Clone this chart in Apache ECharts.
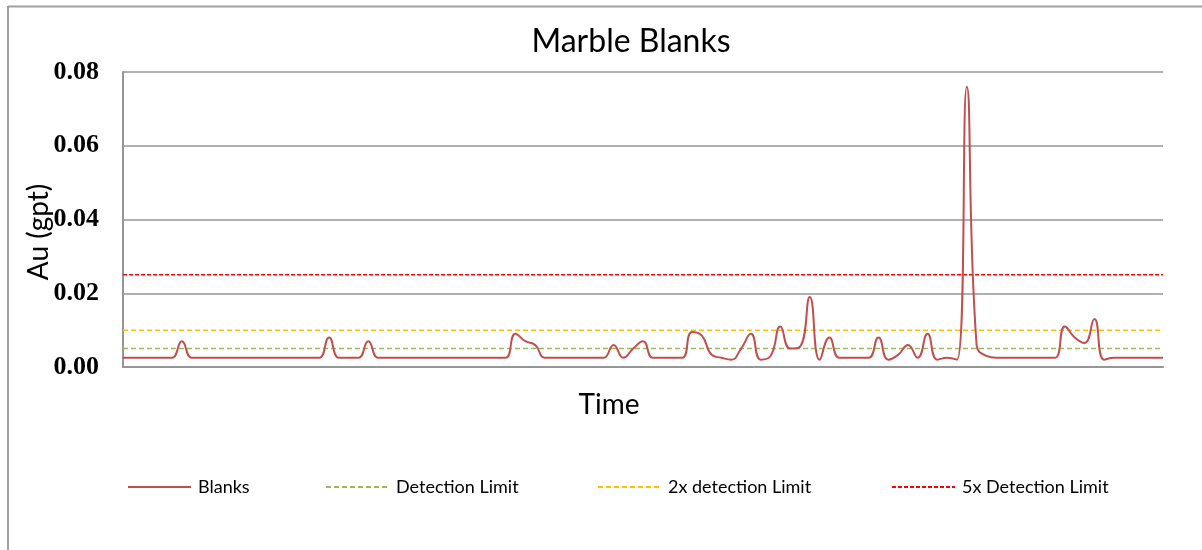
<!DOCTYPE html>
<html>
<head>
<meta charset="utf-8">
<script src="https://cdn.jsdelivr.net/npm/echarts@6/dist/echarts.min.js"></script>
<style>
html,body{margin:0;padding:0;background:#fff;}
#chart{width:1202px;height:550px;}
</style>
</head>
<body>
<div id="chart"></div>
<script>
// Blank assay results (Au, gpt), in sample order
var blanks = [
  0.0025,0.0025,0.0025,0.0025,0.0025,0.0025,0.007,0.0025,0.0025,0.0025,
  0.0025,0.0025,0.0025,0.0025,0.0025,0.0025,0.0025,0.0025,0.0025,0.0025,
  0.0025,0.008,0.0025,0.0025,0.0025,0.007,0.0025,0.0025,0.0025,0.0025,
  0.0025,0.0025,0.0025,0.0025,0.0025,0.0025,0.0025,0.0025,0.0025,0.0025,
  0.009,0.007,0.006,0.0025,0.0025,0.0025,0.0025,0.0025,0.0025,0.0025,
  0.006,0.0025,0.005,0.007,0.0025,0.0025,0.0025,0.0025,0.0095,0.0085,
  0.0033,0.0025,0.002,0.005,0.009,0.002,0.003,0.011,0.005,0.0055,
  0.019,0.002,0.008,0.0025,0.0025,0.0025,0.0025,0.008,0.002,0.0033,
  0.006,0.0025,0.009,0.002,0.0025,0.002,0.076,0.006,0.003,0.0025,
  0.0025,0.0025,0.0025,0.0025,0.0025,0.0025,0.011,0.008,0.0065,0.013,
  0.002,0.0025,0.0025,0.0025,0.0025,0.0025,0.0025
];
// Sample sequence labels (hidden on the Time axis)
var sampleIds = blanks.map(function (v, i) { return String(i + 1); });
// Limits
var detectionLimit = 0.005;
var detectionLimit2x = 0.01;
var detectionLimit5x = 0.025;
// Y tick values
var yTicks = [0, 0.02, 0.04, 0.06, 0.08];
var seriesNames = ['Blanks', 'Detection Limit', '2x detection Limit', '5x Detection Limit'];

function limitLine(v) {
  return [[sampleIds[0], v], [sampleIds[sampleIds.length - 1], v]];
}

var chart = echarts.init(document.getElementById('chart'), null, {renderer: 'canvas'});
var sansFont = 'Lato';
var legendBase = {
  top: 478,
  padding: 0,
  itemWidth: 63,
  itemHeight: 14,
  itemGap: 0,
  itemStyle: {opacity: 0},
  textStyle: {fontFamily: sansFont, fontSize: 18, color: '#000', padding: [0, 0, 0, 2]}
};
chart.setOption({
  animation: false,
  backgroundColor: '#fff',
  title: {
    text: 'Marble Blanks',
    left: 626,
    textAlign: 'center',
    top: 21,
    textStyle: {fontFamily: sansFont, fontSize: 32, fontWeight: 'normal', color: '#000'}
  },
  graphic: [
    {type: 'line', shape: {x1: 8, y1: 6.5, x2: 1202, y2: 6.5}, style: {stroke: '#a0a0a0', lineWidth: 2}, silent: true},
    {type: 'line', shape: {x1: 8, y1: 6, x2: 8, y2: 550}, style: {stroke: '#a0a0a0', lineWidth: 2}, silent: true},
    {type: 'text', x: 39, y: 232, rotation: Math.PI / 2, silent: true,
      style: {text: 'Au (gpt)', fontFamily: sansFont, fontSize: 28, fill: '#000', align: 'center', verticalAlign: 'middle'}},
    {type: 'text', x: 609, y: 405, silent: true,
      style: {text: 'Time', fontFamily: sansFont, fontSize: 28, fill: '#000', align: 'center', verticalAlign: 'middle'}}
  ],
  legend: [
    Object.assign({}, legendBase, {left: 127, data: [seriesNames[0]]}),
    Object.assign({}, legendBase, {left: 325, data: [seriesNames[1]]}),
    Object.assign({}, legendBase, {left: 597, data: [seriesNames[2]]}),
    Object.assign({}, legendBase, {left: 891, data: [seriesNames[3]]})
  ],
  grid: {left: 123, right: 39, top: 72, bottom: 183, containLabel: false},
  xAxis: {
    type: 'category',
    data: sampleIds,
    boundaryGap: false,
    axisLine: {show: true, lineStyle: {color: '#969696', width: 2}},
    axisTick: {show: false},
    axisLabel: {show: false},
    splitLine: {show: false}
  },
  yAxis: {
    type: 'value',
    min: yTicks[0],
    max: yTicks[yTicks.length - 1],
    interval: yTicks[1] - yTicks[0],
    axisLine: {show: true, lineStyle: {color: '#969696', width: 2}},
    axisTick: {show: false},
    axisLabel: {
      margin: 24,
      fontFamily: 'Liberation Serif',
      fontWeight: 'bold',
      fontSize: 26,
      color: '#000',
      formatter: function (v) { return v.toFixed(2); }
    },
    splitLine: {show: true, lineStyle: {color: '#969696', width: 1.5}}
  },
  series: [
    {
      name: seriesNames[0], type: 'line', data: blanks, smooth: 0.5, symbol: 'none',
      lineStyle: {color: '#C0504D', width: 2}, itemStyle: {color: '#C0504D'}, z: 5
    },
    {
      name: seriesNames[1], type: 'line', data: limitLine(detectionLimit), symbol: 'none',
      lineStyle: {color: '#9BBB59', width: 1.5, type: [5, 3]}, itemStyle: {color: '#9BBB59'}
    },
    {
      name: seriesNames[2], type: 'line', data: limitLine(detectionLimit2x), symbol: 'none',
      lineStyle: {color: '#FFC000', width: 1.5, type: [5, 3]}, itemStyle: {color: '#FFC000'}
    },
    {
      name: seriesNames[3], type: 'line', data: limitLine(detectionLimit5x), symbol: 'none',
      lineStyle: {color: '#FF0000', width: 1.5, type: [4, 2]}, itemStyle: {color: '#FF0000'}
    }
  ]
});
</script>
</body>
</html>
